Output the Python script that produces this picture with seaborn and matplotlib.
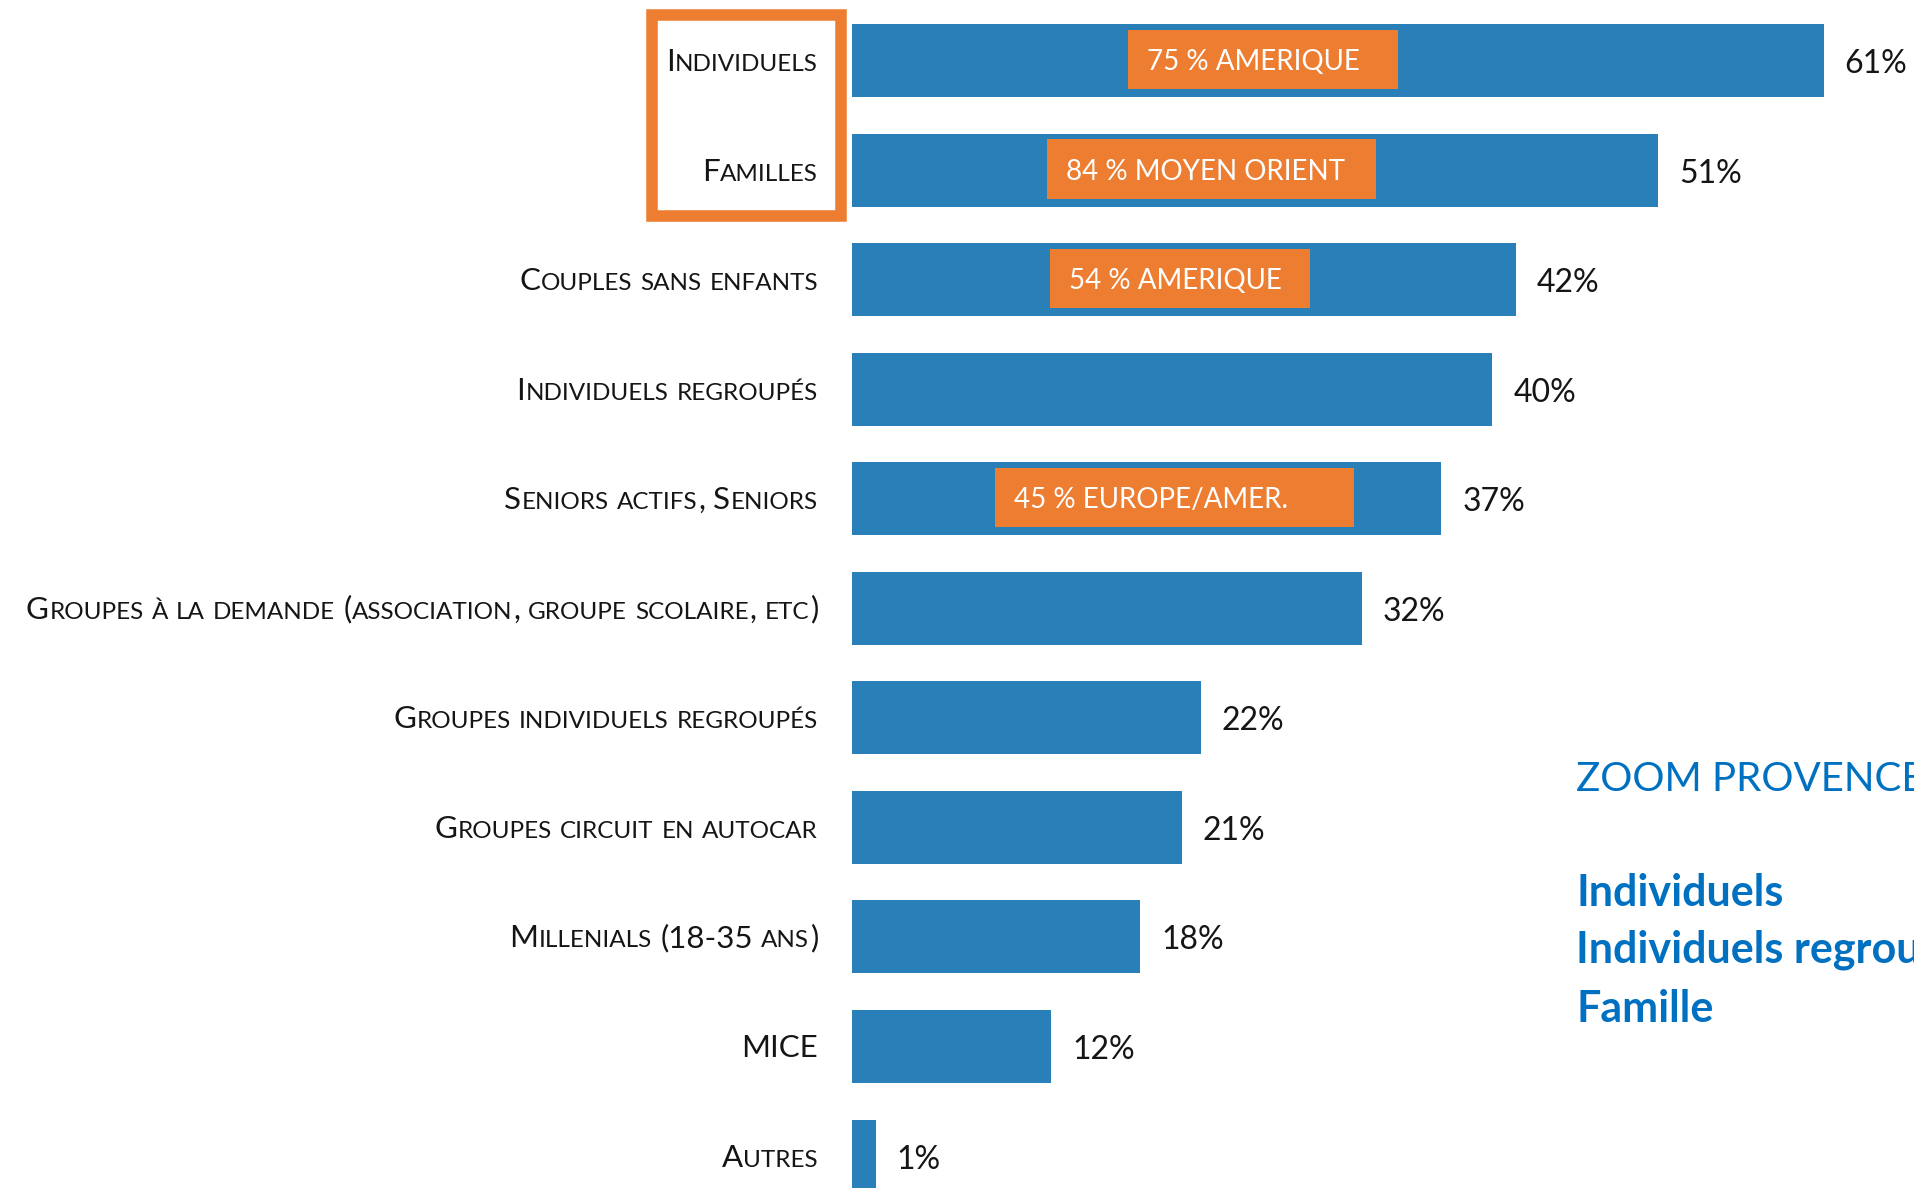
import matplotlib
matplotlib.use("Agg")
import matplotlib.pyplot as plt
from matplotlib.patches import Rectangle
import numpy as np
import pandas as pd
import seaborn as sns

# ---------------- data ----------------
categories = [
    "Individuels",
    "Familles",
    "Couples sans enfants",
    "Individuels regroupés",
    "Seniors actifs, Seniors",
    "Groupes à la demande (association, groupe scolaire, etc)",
    "Groupes individuels regroupés",
    "Groupes circuit en autocar",
    "Millenials (18-35 ans)",
    "MICE",
    "Autres",
]
values = [61, 50.6, 41.7, 40.2, 37, 32, 21.9, 20.7, 18.1, 12.5, 1.5]
value_labels = ["61%", "51%", "42%", "40%", "37%", "32%", "22%", "21%", "18%", "12%", "1%"]

highlight_rows = [0, 1, 2, 4]
highlight_texts = ["75 % AMERIQUE", "84 % MOYEN ORIENT", "54 % AMERIQUE", "45 % EUROPE/AMER."]

side_title = "ZOOM PROVENCE"
side_items = ["Individuels", "Individuels regroupés", "Famille"]

# ---------------- layout / style ----------------
W, H = 1914, 1188
BLUE = "#2980B9"
ORANGE = "#ED7D31"
TEXT = "#151515"
SIDE_BLUE = "#0070C0"
PX_PER_PCT = 15.93
AX_LEFT_PX = 852
highlight_spans = [(17.33, 34.28), (12.24, 32.89), (12.43, 28.75), (8.98, 31.51)]

sns.set_theme(style="white")
plt.rcParams["font.family"] = ["Lato", "DejaVu Sans"]

fig = plt.figure(figsize=(W / 100, H / 100), dpi=100)
fig.patch.set_facecolor("white")
ax = fig.add_axes([AX_LEFT_PX / W, 0, 1 - AX_LEFT_PX / W, 1])

df = pd.DataFrame({"cat": categories, "val": values})
sns.barplot(data=df, x="val", y="cat", orient="h", color=BLUE, saturation=1,
            width=0.666, linewidth=0, ax=ax)
ax.set_xlim(0, (W - AX_LEFT_PX) / PX_PER_PCT)
ax.set_ylim(10.292, -0.552)
ax.axis("off")

# value labels
for i, (v, lab) in enumerate(zip(values, value_labels)):
    ax.annotate(lab, (v, i), xytext=(15, -9), textcoords="offset points",
                ha="left", va="baseline", fontsize=23, color=TEXT)

# orange highlight boxes inside bars
for r, txt, (x0, x1) in zip(highlight_rows, highlight_texts, highlight_spans):
    ax.add_patch(Rectangle((x0, r - 0.28), x1 - x0, 0.54, facecolor=ORANGE,
                           edgecolor="none", zorder=4))
    ax.annotate(txt, (x0, r), xytext=(13.5, -7.0), textcoords="offset points",
                ha="left", va="baseline", fontsize=20, color="white", zorder=5)

# orange frame around the first two labels
fig.add_artist(Rectangle((652 / W, 1 - 216 / H), (841 - 652) / W, (216 - 14.5) / H,
                         transform=fig.transFigure, fill=False, edgecolor=ORANGE,
                         linewidth=8.3, joinstyle="miter"))

# side text
fig.text(1576 / W, 1 - 791 / H, side_title, fontsize=29, color=SIDE_BLUE, va="baseline")
for k, (item, base) in enumerate(zip(side_items, [906, 963, 1022])):
    fig.text(1576 / W, 1 - base / H, item, fontsize=31, fontweight="bold",
             color=SIDE_BLUE, va="baseline")

# ---------------- small-caps category labels ----------------
fig.canvas.draw()
renderer = fig.canvas.get_renderer()

def text_width(s, size):
    t = fig.text(0, 0, s, fontsize=size)
    w = t.get_window_extent(renderer).width
    t.remove()
    return w

BIG, SMALL = 22.5, 17.5
space_w = (text_width("I I", SMALL) - text_width("II", SMALL)) * 1.2
GAP = 0.6
LABEL_RIGHT_PX = 818
CAP_BIG_PX = 23

def runs_of(s):
    out = []
    for ch in s:
        kind = "space" if ch == " " else ("small" if ch.islower() else "big")
        if out and out[-1][0] == kind:
            out[-1][1] += ch
        else:
            out.append([kind, ch])
    return out

for i, cat in enumerate(categories):
    yc = ax.transData.transform((0, i))[1]
    base = yc - CAP_BIG_PX / 2 + 1
    x = LABEL_RIGHT_PX
    for kind, s in reversed(runs_of(cat)):
        if kind == "space":
            x -= space_w * len(s)
            continue
        size = SMALL if kind == "small" else BIG
        s_draw = s.upper()
        w = text_width(s_draw, size)
        x -= w
        fig.text(x / W, base / H, s_draw, fontsize=size, ha="left", va="baseline",
                 color=TEXT)
        x -= GAP

fig.savefig("out.png", dpi=100)
